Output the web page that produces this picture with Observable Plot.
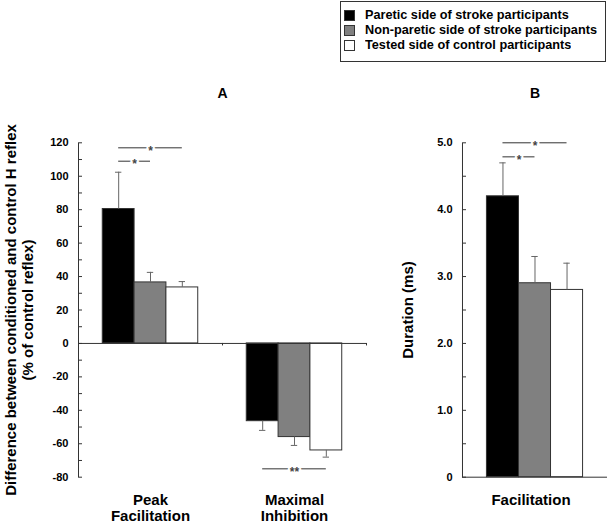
<!DOCTYPE html>
<html>
<head>
<meta charset="utf-8">
<script src="https://cdn.jsdelivr.net/npm/d3@7"></script>
<script src="https://cdn.jsdelivr.net/npm/@observablehq/plot@0.6"></script>
<style>
  html, body { margin: 0; padding: 0; background: #fff; }
  #root { position: relative; width: 608px; height: 523px; overflow: hidden; background: #fff; }
  #root > svg { position: absolute; top: 0; }
  #legend { position: absolute; left: 340px; top: 1px; width: 264px; height: 59px; border: 1px solid #333;
            box-sizing: content-box; padding: 0; background: #fff; }
  #legend .lg-swatches { margin: 0; padding: 6px 0 0 3px; font-family: "Liberation Sans", Arial, sans-serif;
            font-size: 12.7px; font-weight: bold; color: #000; }
  #legend .lg-swatch { line-height: 14px; padding-bottom: 1px; }
  #legend .lg-swatch > svg { margin-right: 10px !important; outline: 1px solid #333; outline-offset: -1px; }
</style>
</head>
<body>
<div id="root"><div id="legend"></div></div>
<script>
// ---- data ----
const series = [
  "Paretic side of stroke participants",
  "Non-paretic side of stroke participants",
  "Tested side of control participants"
];
const seriesColors = ["#000000", "#808080", "#ffffff"];

// Panel A
const categoriesA = ["Peak Facilitation", "Maximal Inhibition"];
const pareticA = [80.4, -46.5];
const pareticErrA = [22, 5.5];
const nonPareticA = [36.5, -56];
const nonPareticErrA = [6, 5];
const controlA = [33.5, -64];
const controlErrA = [3.5, 4];
const yTicksA = [-80, -60, -40, -20, 0, 20, 40, 60, 80, 100, 120];
const yMinorA = [-80, -70, -60, -50, -40, -30, -20, -10, 0, 10, 20, 30, 40, 50, 60, 70, 80, 90, 100, 110, 120];
const sigCatA = ["Peak Facilitation", "Peak Facilitation", "Maximal Inhibition"];
const sigFromA = [0, 0, 0];
const sigToA = [2, 1, 2];
const sigYA = [117, 109, -75];
const sigTextA = ["*", "*", "**"];

// Panel B
const categoriesB = ["Facilitation"];
const pareticB = [4.2];
const pareticErrB = [0.5];
const nonPareticB = [2.9];
const nonPareticErrB = [0.4];
const controlB = [2.8];
const controlErrB = [0.4];
const yTicksB = [0, 1, 2, 3, 4, 5];
const yMinorB = [0, 0.5, 1, 1.5, 2, 2.5, 3, 3.5, 4, 4.5, 5];
const sigCatB = ["Facilitation", "Facilitation"];
const sigFromB = [0, 0];
const sigToB = [2, 1];
const sigYB = [5.0, 4.79];
const sigTextB = ["*", "*"];

const yLabelA = "Difference between conditioned and control H reflex\n(% of control reflex)";
const yLabelB = "Duration (ms)";

// ---- tables ----
function table(categories, vals, errs) {
  const rows = [];
  categories.forEach((c, j) => series.forEach((s, i) => {
    const v = vals[i][j], e = errs[i][j];
    rows.push({category: c, series: s, i, value: v, tip: v + Math.sign(v) * e});
  }));
  return rows;
}
function sigTable(cat, from, to, y, text) {
  return cat.map((c, k) => ({category: c, from: from[k], to: to[k], y: y[k], label: text[k]}));
}
const rowsA = table(categoriesA, [pareticA, nonPareticA, controlA], [pareticErrA, nonPareticErrA, controlErrA]);
const rowsB = table(categoriesB, [pareticB, nonPareticB, controlB], [pareticErrB, nonPareticErrB, controlErrB]);
const sigA = sigTable(sigCatA, sigFromA, sigToA, sigYA, sigTextA);
const sigB = sigTable(sigCatB, sigFromB, sigToB, sigYB, sigTextB);

const font = '"Liberation Sans", Arial, Helvetica, sans-serif';
const xDomain = [-1.2625, 3.2625];

function panel(o) {
  const marks = [
    Plot.rect(o.rows, {fx: "category", x1: d => d.i - 0.5, x2: d => d.i + 0.5, y1: 0, y2: "value",
      fill: "series", stroke: "#333", strokeWidth: 1}),
    Plot.ruleX(o.rows, {fx: "category", x: "i", y1: "value", y2: "tip", stroke: "#666"}),
    Plot.ruleY(o.rows, {fx: "category", x1: d => d.i - 0.1, x2: d => d.i + 0.1, y: "tip", stroke: "#666"}),
    Plot.ruleY([0], {stroke: "#333"}),
    Plot.frame({anchor: "left", facetAnchor: "left", stroke: "#333"}),
    Plot.axisY({anchor: "left", ticks: o.yTicks, tickSize: 0, tickPadding: 10, tickFormat: o.tickFormat, label: null, fontSize: 11}),
    Plot.axisY({anchor: "right", frameAnchor: "left", facetAnchor: "left", ticks: o.yMinor, tickSize: 3,
      fill: "none", label: null, stroke: "#333"}),
    Plot.axisFx({anchor: "bottom", tickSize: 0, tickPadding: 16, fontSize: 15, lineHeight: 1.07, label: null,
      tickFormat: d => d.split(" ").join("\n"), dx: o.fxDx}),
    Plot.ruleY(o.sig, {fx: "category", x1: "from", x2: "to", y: "y", stroke: "#333"}),
    Plot.text(o.sig, {fx: "category", x: d => (d.from + d.to) / 2, y: "y", text: "label", fontSize: 12,
      fill: "#444", stroke: "white", strokeWidth: 4, paintOrder: "stroke", lineAnchor: "middle", dy: 3}),
    Plot.text([o.title], {facet: "super", frameAnchor: "top", dy: -55, fontSize: 14, lineAnchor: "top"}),
    Plot.text([o.yLabel], {facet: "super", frameAnchor: "left", rotate: -90, dx: o.labelDx, lineAnchor: "top",
      fontSize: 15, lineHeight: 1.14, textAnchor: "middle"})
  ];
  if (o.boundaryTicks) {
    marks.push(Plot.ruleX(o.categories, {fx: d => d, x: xDomain[1], y1: 0, y2: o.boundaryTicks, stroke: "#333"}));
  }
  return Plot.plot({
    width: o.width, height: 523,
    marginTop: 142.3, marginBottom: 46.3, marginLeft: o.marginLeft, marginRight: o.marginRight,
    style: {fontFamily: font, fontSize: "11px", fontWeight: "bold", color: "#000", background: "transparent", overflow: "visible"},
    fx: {domain: o.categories, padding: 0, axis: null},
    x: {domain: xDomain, axis: null},
    y: {domain: o.yDomain, axis: null},
    color: {domain: series, range: seriesColors},
    marks
  });
}

const plotA = panel({
  categories: categoriesA, rows: rowsA, sig: sigA, yDomain: [-80, 120], yTicks: yTicksA, yMinor: yMinorA,
  tickFormat: d => String(d), yLabel: yLabelA, title: "A", width: 372, marginLeft: 77, marginRight: 5.4,
  labelDx: -74.3, fxDx: 0, boundaryTicks: -1.5
});
const plotB = panel({
  categories: categoriesB, rows: rowsB, sig: sigB, yDomain: [0, 5], yTicks: yTicksB, yMinor: yMinorB,
  tickFormat: d => d === 0 ? "0" : d.toFixed(1), yLabel: yLabelB, title: "B", width: 236, marginLeft: 89.7, marginRight: 1.3,
  labelDx: -61.7, fxDx: -4, boundaryTicks: null
});
plotA.style.left = "0px";
plotB.style.left = "372px";
const root = document.getElementById("root");
root.insertBefore(plotA, root.firstChild);
root.insertBefore(plotB, root.firstChild);

const legend = Plot.legend({color: {domain: series, range: seriesColors}, columns: 1, swatchSize: 11, className: "lg"});
document.getElementById("legend").appendChild(legend);
</script>
</body>
</html>
